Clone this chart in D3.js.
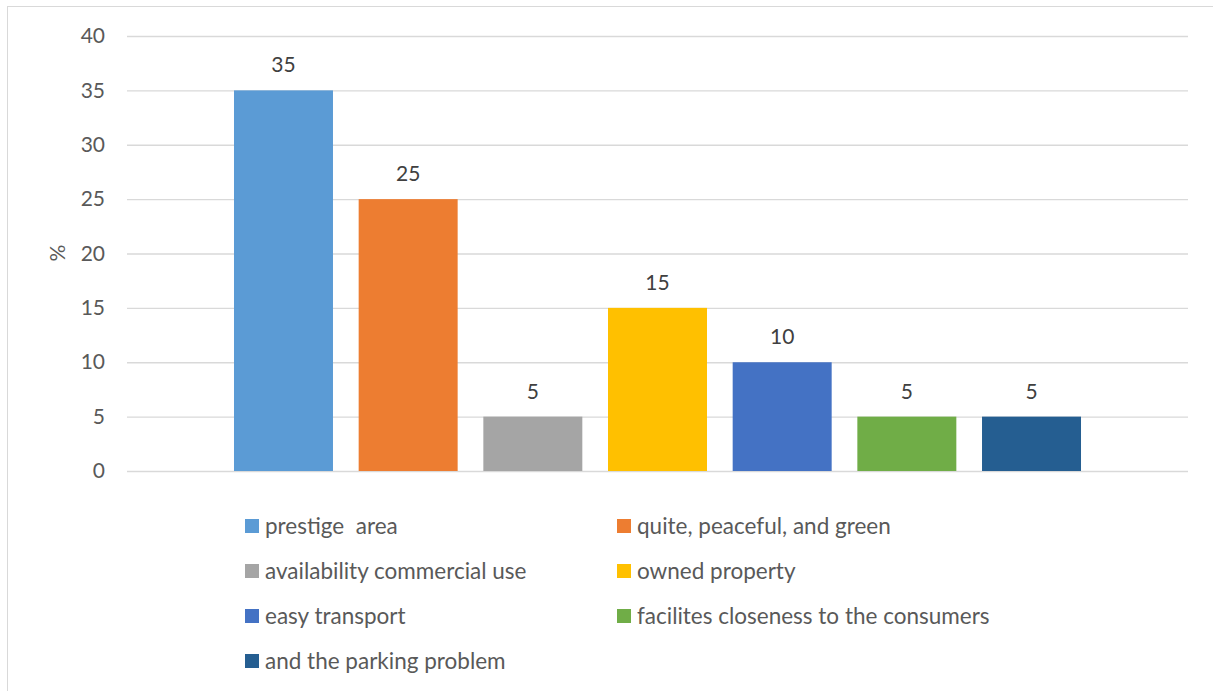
<!DOCTYPE html>
<html><head><meta charset="utf-8">
<script src="https://cdn.jsdelivr.net/npm/d3@7"></script>
<style>body{margin:0;background:#fff}svg{display:block}</style>
</head><body>
<svg id="c" width="1213" height="691"></svg>
<script>
const series = ["prestige  area","quite, peaceful, and green","availability commercial use","owned property","easy transport","facilites closeness to the consumers","and the parking problem"];
const values = [35,25,5,15,10,5,5];
const colors = ["#5B9BD5","#ED7D31","#A5A5A5","#FFC000","#4472C4","#70AD47","#255E91"];
const yTicks = [0,5,10,15,20,25,30,35,40];
const yLabel = "%";

const svg = d3.select("#c");
const font = "Lato, 'Open Sans', sans-serif";
// outer frame
svg.append("rect").attr("x",7.5).attr("y",6.5).attr("width",1220).attr("height",700)
  .attr("fill","#fff").attr("stroke","#d9d9d9").attr("stroke-width",1);

const L=127, R=1188, T=36, B=471;
const y = d3.scaleLinear().domain([0,40]).range([B,T]);
const gapFrac = 107/1061;
const x = d3.scaleBand().domain(series)
  .range([L+ (R-L)*gapFrac - 12.85, R-(R-L)*gapFrac + 12.85])
  .paddingInner(0.206).paddingOuter(0.103);

// grid
const yAxis = d3.axisLeft(y).tickValues(yTicks).tickSize(-(R-L)).tickPadding(22);
const g = svg.append("g").attr("transform",`translate(${L},0)`).call(yAxis);
g.select(".domain").remove();
g.selectAll(".tick line").attr("stroke","#d9d9d9").attr("stroke-width",1.3);
g.selectAll(".tick text").attr("fill","#595959").style("font-family",font).style("font-size","21px");

svg.append("g").selectAll("rect").data(values).join("rect")
  .attr("x",(d,i)=>x(series[i])).attr("width",x.bandwidth())
  .attr("y",d=>y(d)).attr("height",d=>y(0)-y(d))
  .attr("fill",(d,i)=>colors[i]);

svg.append("g").selectAll("text").data(values).join("text")
  .attr("x",(d,i)=>x(series[i])+x.bandwidth()/2).attr("y",d=>y(d)-18)
  .attr("text-anchor","middle").attr("fill","#404040")
  .style("font-family",font).style("font-size","21px").text(d=>d);

svg.append("text").attr("transform",`translate(65,253) rotate(-90)`)
  .attr("text-anchor","middle").attr("fill","#595959")
  .style("font-family",font).style("font-size","21px").text(yLabel);

// legend
const lg = svg.append("g");
const colX=[245,617], rowY0=526, rowH=45;
series.forEach((s,i)=>{
  const cx = colX[i%2], cy = rowY0 + Math.floor(i/2)*rowH;
  lg.append("rect").attr("x",cx).attr("y",cy-7).attr("width",14).attr("height",14).attr("fill",colors[i]);
  lg.append("text").attr("x",cx+20).attr("y",cy).attr("dy","0.35em")
    .attr("fill","#595959").style("font-family",font).style("font-size","22.5px")
    .style("white-space","pre").attr("xml:space","preserve").text(s);
});
</script>
</body></html>
